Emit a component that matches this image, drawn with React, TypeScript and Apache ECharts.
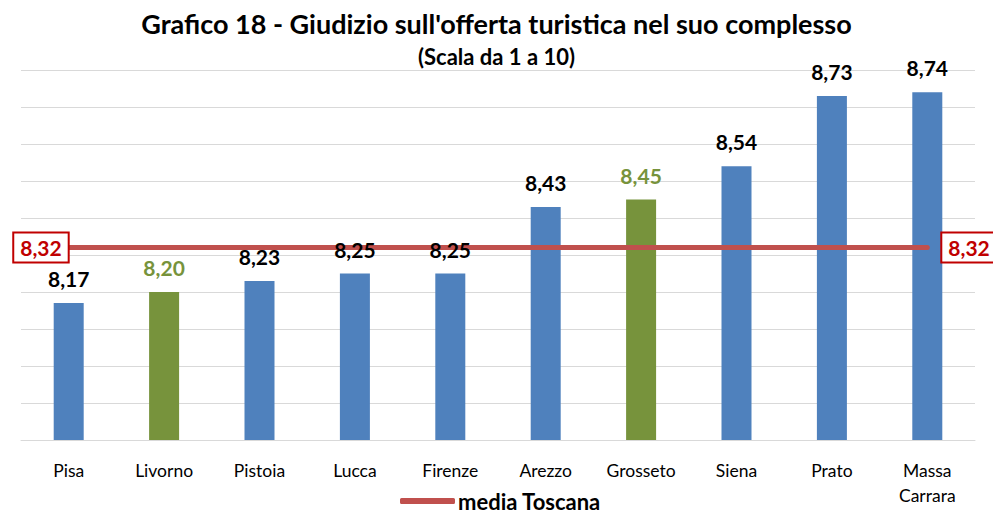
import React, { useEffect, useRef } from "react";
import * as echarts from "echarts";

const categories = ["Pisa", "Livorno", "Pistoia", "Lucca", "Firenze", "Arezzo", "Grosseto", "Siena", "Prato", "Massa\nCarrara"];
const values = [8.17, 8.2, 8.23, 8.25, 8.25, 8.43, 8.45, 8.54, 8.73, 8.74];
const highlighted = ["Livorno", "Grosseto"];
const mediaToscana = 8.32;
const seriesName = "media Toscana";

const BLUE = "#4F81BD";
const GREEN = "#77933C";
const RED = "#C0504D";
const DARKRED = "#C00000";
const FONT = "Lato, 'Open Sans', sans-serif";

const fmt = (v: number) => v.toFixed(2).replace(".", ",");

export default function App() {
  const ref = useRef<HTMLDivElement>(null);
  useEffect(() => {
    if (!ref.current) return;
    const chart = echarts.init(ref.current, null, { renderer: "svg" });
    const barData = values.map((v, i) => {
      const hl = highlighted.includes(categories[i]);
      return { value: v, itemStyle: { color: hl ? GREEN : BLUE } };
    });
    const labelData = values.map((v, i) => {
      const hl = highlighted.includes(categories[i]);
      return { value: v, label: { color: hl ? GREEN : "#000" } };
    });
    const boxLabel = {
      show: true,
      formatter: (p: any) => fmt(p.value),
      color: DARKRED,
      fontWeight: "bold",
      fontSize: 21,
      fontFamily: FONT,
      backgroundColor: "#fff",
      borderColor: DARKRED,
      borderWidth: 2,
      padding: [4, 6, 3, 6],
    };
    const lineData = categories.map((_, i) => {
      if (i === 0) return { value: mediaToscana, label: { ...boxLabel, position: "left", distance: 1 } };
      if (i === categories.length - 1) return { value: mediaToscana, label: { ...boxLabel, position: "right", distance: 15 } };
      return { value: mediaToscana, label: { show: false } };
    });
    chart.setOption({
      animation: false,
      textStyle: { fontFamily: FONT },
      title: {
        text: "Grafico 18 - Giudizio sull'offerta turistica nel suo complesso",
        subtext: "(Scala da 1 a 10)",
        left: "center",
        top: 5,
        itemGap: 8,
        textStyle: { fontFamily: FONT, fontSize: 27, fontWeight: "bold", color: "#000" },
        subtextStyle: { fontFamily: FONT, fontSize: 22, fontWeight: "bold", color: "#000" },
      },
      legend: {
        top: 485,
        left: 395,
        data: [{ name: seriesName, icon: "roundRect" }],
        itemWidth: 55,
        itemHeight: 6,
        itemGap: 4,
        textStyle: { fontFamily: FONT, fontSize: 22, fontWeight: "bold", color: "#000", padding: [0, 0, 0, -2] },
      },
      grid: { left: 21, right: 18, top: 70, bottom: 73 },
      xAxis: {
        type: "category",
        data: categories,
        axisTick: { show: false },
        axisLine: { lineStyle: { color: "#D9D9D9", width: 1 } },
        axisLabel: { color: "#000", fontSize: 17.5, fontFamily: FONT, margin: 18, lineHeight: 25, interval: 0 },
      },
      yAxis: {
        type: "value",
        min: 7.8,
        max: 8.8,
        interval: 0.1,
        axisLabel: { show: false },
        axisLine: { show: false },
        axisTick: { show: false },
        splitLine: { lineStyle: { color: "#D9D9D9", width: 1 } },
      },
      series: [
        {
          type: "bar",
          name: "Giudizio",
          data: barData,
          barWidth: 30,
          z: 2,
        },
        {
          type: "line",
          name: seriesName,
          data: lineData,
          symbol: "circle",
          symbolSize: 0,
          showSymbol: true,
          lineStyle: { color: RED, width: 5, cap: "round" },
          itemStyle: { color: RED },
          z: 5,
        },
        {
          type: "bar",
          name: "Etichette",
          data: labelData,
          barWidth: 30,
          barGap: "-100%",
          itemStyle: { color: "rgba(0,0,0,0)" },
          z: 8,
          label: {
            show: true,
            position: "top",
            distance: 14,
            formatter: (p: any) => fmt(p.value),
            fontSize: 21,
            fontWeight: "bold",
            fontFamily: FONT,
          },
        },
      ],
    });
    return () => chart.dispose();
  }, []);
  return <div ref={ref} style={{ width: 993, height: 513, position: "absolute", left: 0, top: 0 }} />;
}
